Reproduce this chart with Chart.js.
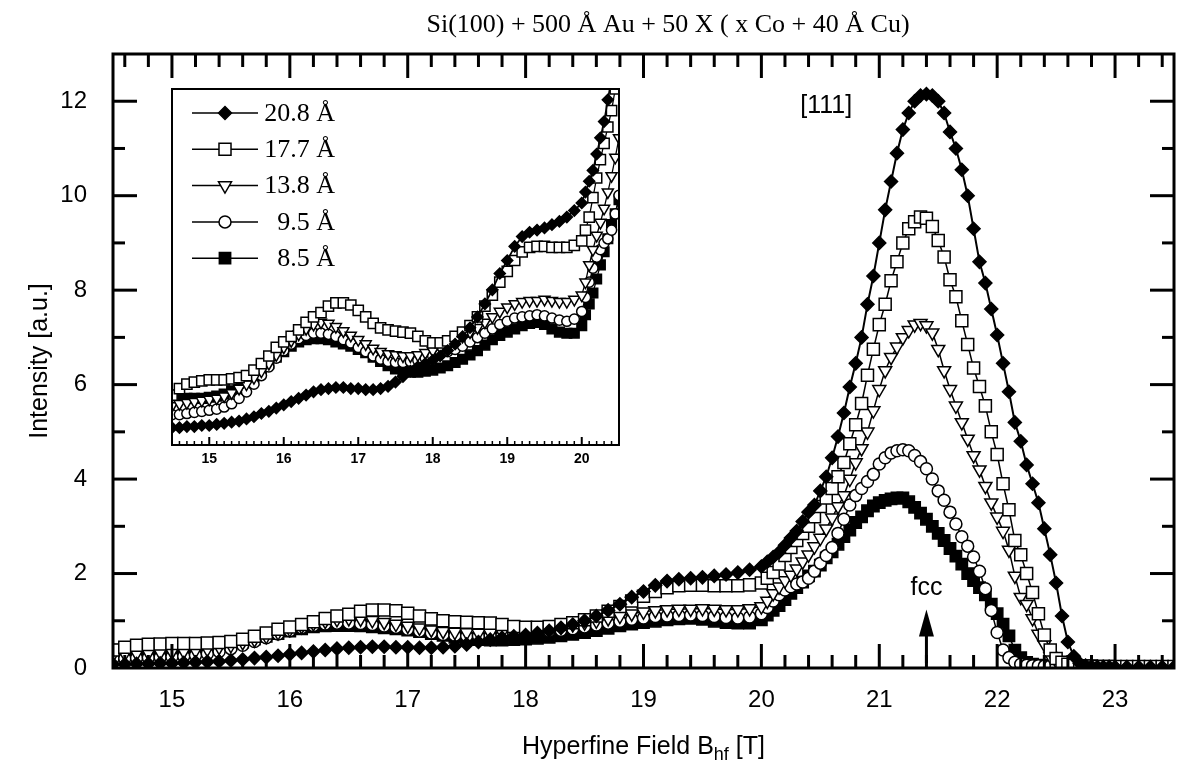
<!DOCTYPE html>
<html>
<head>
<meta charset="utf-8">
<script src="https://cdn.jsdelivr.net/npm/chart.js@4.4.1/dist/chart.umd.min.js"></script>
<style>
  html, body { margin: 0; padding: 0; background: #fff; }
  #wrap { position: relative; width: 1184px; height: 777px; }
  #main { position: absolute; left: 0; top: 0; width: 1184px; height: 777px; }
  #inset { position: absolute; left: 150px; top: 80px; width: 490px; height: 400px; }
</style>
</head>
<body>
<div id="wrap">
  <canvas id="main" width="1184" height="777"></canvas>
  <canvas id="inset" width="490" height="400"></canvas>
</div>
<script>
/* Hyperfine field grid [T] : 0.1 T steps, 0.05 T steps around the peak */
const fieldLow = [14.5, 14.6, 14.7, 14.8, 14.9, 15.0, 15.1, 15.2, 15.3, 15.4,
  15.5, 15.6, 15.7, 15.8, 15.9, 16.0, 16.1, 16.2, 16.3, 16.4,
  16.5, 16.6, 16.7, 16.8, 16.9, 17.0, 17.1, 17.2, 17.3, 17.4,
  17.5, 17.6, 17.7, 17.8, 17.9, 18.0, 18.1, 18.2, 18.3, 18.4,
  18.5, 18.6, 18.7, 18.8, 18.9, 19.0, 19.1, 19.2, 19.3, 19.4,
  19.5, 19.6, 19.7, 19.8, 19.9]
const fieldPeak = [20.0, 20.05, 20.1, 20.15, 20.2, 20.25, 20.3, 20.35, 20.4, 20.45,
  20.5, 20.55, 20.6, 20.65, 20.7, 20.75, 20.8, 20.85, 20.9, 20.95,
  21.0, 21.05, 21.1, 21.15, 21.2, 21.25, 21.3, 21.35, 21.4, 21.45,
  21.5, 21.55, 21.6, 21.65, 21.7, 21.75, 21.8, 21.85, 21.9, 21.95,
  22.0, 22.05, 22.1, 22.15, 22.2, 22.25, 22.3, 22.35, 22.4, 22.45,
  22.5, 22.55, 22.6, 22.65, 22.7, 22.75, 22.8, 22.85, 22.9, 22.95]
const fieldTail = [23.0, 23.1, 23.2, 23.3, 23.4, 23.5]
const field = [...fieldLow, ...fieldPeak, ...fieldTail]

/* Intensity [a.u.] per Co thickness */
const co208 = [0.08, 0.08, 0.09, 0.09, 0.10, 0.10, 0.11, 0.12, 0.13, 0.14,
  0.16, 0.18, 0.21, 0.23, 0.26, 0.29, 0.32, 0.35, 0.38, 0.41,
  0.43, 0.44, 0.45, 0.45, 0.44, 0.44, 0.43, 0.43, 0.44, 0.46,
  0.50, 0.55, 0.60, 0.64, 0.67, 0.70, 0.74, 0.79, 0.85, 0.92,
  1.00, 1.10, 1.22, 1.35, 1.50, 1.62, 1.75, 1.84, 1.88, 1.90,
  1.92, 1.95, 1.98, 2.02, 2.08,
  2.15, 2.25, 2.35, 2.45, 2.60, 2.75, 2.90, 3.10, 3.30, 3.45,
  3.75, 4.05, 4.45, 4.90, 5.40, 5.95, 6.45, 7.00, 7.70, 8.30,
  9.00, 9.70, 10.30, 10.90, 11.40, 11.75, 12.00, 12.12, 12.15, 12.12,
  12.00, 11.75, 11.35, 11.00, 10.55, 10.00, 9.30, 8.60, 8.15, 7.60,
  7.05, 6.45, 5.85, 5.20, 4.80, 4.30, 3.90, 3.50, 2.95, 2.40,
  1.80, 1.10, 0.55, 0.25, 0.10, 0.05, 0.03, 0.02, 0.02, 0.02,
  0.02, 0.02, 0.02, 0.02, 0.02, 0.02]
const co177 = [0.38, 0.44, 0.48, 0.50, 0.51, 0.52, 0.52, 0.52, 0.53, 0.54,
  0.56, 0.61, 0.67, 0.74, 0.82, 0.87, 0.92, 0.98, 1.05, 1.10,
  1.14, 1.20, 1.23, 1.23, 1.21, 1.16, 1.10, 1.04, 1.00, 0.98,
  0.97, 0.96, 0.95, 0.92, 0.88, 0.86, 0.86, 0.88, 0.92, 0.96,
  1.02, 1.10, 1.20, 1.30, 1.42, 1.52, 1.62, 1.70, 1.74, 1.75,
  1.75, 1.74, 1.74, 1.74, 1.76,
  1.80, 1.90, 2.02, 2.20, 2.38, 2.55, 2.70, 2.85, 3.00, 3.20,
  3.42, 3.60, 3.80, 4.05, 4.35, 4.75, 5.15, 5.60, 6.20, 6.75,
  7.27, 7.70, 8.20, 8.60, 9.00, 9.30, 9.45, 9.55, 9.52, 9.35,
  9.05, 8.70, 8.22, 7.86, 7.35, 6.85, 6.35, 5.96, 5.55, 5.00,
  4.52, 3.90, 3.35, 2.70, 2.40, 2.00, 1.60, 1.15, 0.70, 0.38,
  0.20, 0.12, 0.08, 0.06, 0.05, 0.04, 0.04, 0.03, 0.03, 0.03,
  0.03, 0.03, 0.03, 0.03, 0.03, 0.03]
const co138 = [0.28, 0.30, 0.31, 0.32, 0.33, 0.34, 0.35, 0.37, 0.40, 0.44,
  0.48, 0.54, 0.60, 0.67, 0.75, 0.82, 0.88, 0.94, 0.99, 1.03,
  1.05, 1.04, 1.01, 0.97, 0.93, 0.89, 0.85, 0.81, 0.78, 0.76,
  0.75, 0.74, 0.74, 0.75, 0.77, 0.79, 0.82, 0.85, 0.88, 0.92,
  0.96, 1.00, 1.05, 1.10, 1.15, 1.19, 1.22, 1.24, 1.25, 1.25,
  1.26, 1.25, 1.24, 1.24, 1.26,
  1.30, 1.42, 1.58, 1.72, 1.85, 1.97, 2.10, 2.25, 2.40, 2.57,
  2.75, 2.95, 3.18, 3.42, 3.65, 4.00, 4.35, 4.65, 5.00, 5.45,
  5.90, 6.30, 6.58, 6.80, 7.00, 7.15, 7.27, 7.30, 7.25, 7.10,
  6.75, 6.30, 5.90, 5.55, 5.20, 4.85, 4.50, 4.20, 3.85, 3.50,
  3.20, 2.90, 2.50, 1.95, 1.50, 1.35, 1.05, 0.72, 0.50, 0.25,
  0.15, 0.10, 0.07, 0.06, 0.05, 0.04, 0.04, 0.03, 0.03, 0.03,
  0.03, 0.03, 0.03, 0.03, 0.03, 0.03]
const co95 = [0.20, 0.20, 0.21, 0.22, 0.23, 0.24, 0.25, 0.27, 0.30, 0.35,
  0.41, 0.48, 0.56, 0.64, 0.72, 0.79, 0.85, 0.90, 0.93, 0.95,
  0.95, 0.94, 0.92, 0.89, 0.86, 0.82, 0.78, 0.74, 0.71, 0.69,
  0.68, 0.68, 0.69, 0.70, 0.72, 0.74, 0.76, 0.78, 0.80, 0.83,
  0.87, 0.91, 0.95, 0.99, 1.03, 1.06, 1.09, 1.10, 1.11, 1.12,
  1.11, 1.09, 1.07, 1.06, 1.08,
  1.15, 1.28, 1.42, 1.55, 1.65, 1.72, 1.78, 1.82, 1.90, 2.05,
  2.22, 2.38, 2.55, 2.85, 3.15, 3.45, 3.65, 3.80, 3.95, 4.10,
  4.32, 4.45, 4.55, 4.60, 4.62, 4.60, 4.50, 4.37, 4.22, 4.00,
  3.75, 3.55, 3.30, 3.05, 2.78, 2.58, 2.35, 2.05, 1.68, 1.22,
  0.75, 0.38, 0.22, 0.12, 0.08, 0.06, 0.05, 0.05, 0.04, 0.04,
  0.04, 0.03, 0.03, 0.03, 0.03, 0.03, 0.03, 0.03, 0.03, 0.03,
  0.03, 0.03, 0.03, 0.03, 0.03, 0.03]
const co85 = [0.38, 0.36, 0.35, 0.35, 0.35, 0.36, 0.37, 0.39, 0.42, 0.46,
  0.50, 0.55, 0.61, 0.67, 0.73, 0.78, 0.83, 0.87, 0.89, 0.90,
  0.90, 0.89, 0.87, 0.85, 0.83, 0.80, 0.77, 0.73, 0.69, 0.65,
  0.62, 0.60, 0.59, 0.59, 0.60, 0.61, 0.63, 0.65, 0.68, 0.71,
  0.75, 0.79, 0.84, 0.89, 0.93, 0.96, 0.99, 1.02, 1.04, 1.05,
  1.03, 0.99, 0.96, 0.95, 0.95,
  1.02, 1.12, 1.22, 1.32, 1.45, 1.58, 1.70, 1.82, 1.95, 2.05,
  2.18, 2.33, 2.46, 2.62, 2.78, 2.92, 3.08, 3.20, 3.33, 3.43,
  3.50, 3.55, 3.58, 3.60, 3.60, 3.52, 3.40, 3.28, 3.15, 3.00,
  2.85, 2.70, 2.53, 2.37, 2.20, 2.00, 1.85, 1.70, 1.55, 1.35,
  1.15, 0.93, 0.68, 0.38, 0.22, 0.12, 0.08, 0.06, 0.05, 0.05,
  0.04, 0.04, 0.04, 0.04, 0.03, 0.03, 0.03, 0.03, 0.03, 0.03,
  0.03, 0.03, 0.03, 0.03, 0.03, 0.03]

const labels = ['20.8 Å', '17.7 Å', '13.8 Å', '9.5 Å', '8.5 Å']
const values = [co208, co177, co138, co95, co85]

/* Tick labels */
const xTicks = [15, 16, 17, 18, 19, 20, 21, 22, 23]
const yTicks = [0, 2, 4, 6, 8, 10, 12]
const insetTicks = [15, 16, 17, 18, 19, 20]

/* Marker look for each series */
const looks = [
  { style: 'rectRot', r: 6.5, fill: '#000', rot: 0, line: 2 },
  { style: 'rect', r: 8.5, fill: '#fff', rot: 0, line: 1.5 },
  { style: 'triangle', r: 7.5, fill: '#fff', rot: 180, line: 1.5 },
  { style: 'circle', r: 6, fill: '#fff', rot: 0, line: 1.5 },
  { style: 'rect', r: 8, fill: '#000', rot: 0, line: 1.5 },
]

const SANS = '"Liberation Sans", Arial, sans-serif'
const SERIF = '"Liberation Serif", "Times New Roman", serif'

const points = vals => field.map((f, i) => ({ x: f, y: vals[i] }))

const makeDatasets = (scale, maxX, clip) => values.map((vals, i) => {
  const lk = looks[i]
  return {
    label: labels[i],
    data: points(vals).filter(p => p.x <= maxX),
    showLine: true,
    borderColor: '#000',
    borderWidth: lk.line * scale,
    pointStyle: lk.style,
    pointRotation: lk.rot,
    pointRadius: lk.r * scale,
    pointHoverRadius: lk.r * scale,
    pointBackgroundColor: lk.fill,
    pointBorderColor: '#000',
    pointBorderWidth: 1.5,
    clip: clip,
  }
})

/* Legend marker drawn by hand (same shapes as Chart.js) */
const drawMarker = (ctx, lk, x, y) => {
  const r = lk.r
  ctx.beginPath()
  if (lk.style === 'rectRot') {
    ctx.moveTo(x - r, y); ctx.lineTo(x, y - r); ctx.lineTo(x + r, y); ctx.lineTo(x, y + r)
    ctx.closePath()
  } else if (lk.style === 'rect') {
    const s = r * Math.SQRT1_2
    ctx.rect(x - s, y - s, 2 * s, 2 * s)
  } else if (lk.style === 'triangle') {
    ctx.moveTo(x, y + r); ctx.lineTo(x - r * 0.866, y - r / 2); ctx.lineTo(x + r * 0.866, y - r / 2)
    ctx.closePath()
  } else {
    ctx.arc(x, y, r, 0, Math.PI * 2)
  }
  ctx.fillStyle = lk.fill
  ctx.fill()
  ctx.lineWidth = 1.5
  ctx.strokeStyle = '#000'
  ctx.stroke()
}

const tickLine = (ctx, x1, y1, x2, y2, w) => {
  ctx.lineWidth = w
  ctx.beginPath(); ctx.moveTo(x1, y1); ctx.lineTo(x2, y2); ctx.stroke()
}

/* Frame, inward ticks, titles and annotations of the main plot */
const mainDecor = {
  id: 'mainDecor',
  afterDraw(chart) {
    const { ctx, chartArea: a, scales: { x, y } } = chart
    ctx.save()
    ctx.strokeStyle = '#000'
    ctx.fillStyle = '#000'

    for (let k = 0; k <= 44; k++) {
      const v = Math.round((14.6 + 0.2 * k) * 10) / 10
      const px = x.getPixelForValue(v)
      const major = Number.isInteger(v)
      const len = major ? 24 : 13
      tickLine(ctx, px, a.bottom, px, a.bottom - len, 3)
      tickLine(ctx, px, a.top, px, a.top + len, 3)
    }
    for (let v = 1; v <= 12; v++) {
      const py = y.getPixelForValue(v)
      const len = v % 2 === 0 ? 24 : 12
      tickLine(ctx, a.left, py, a.left + len, py, 3)
      tickLine(ctx, a.right, py, a.right - len, py, 3)
    }
    ctx.lineWidth = 3
    ctx.strokeRect(a.left, a.top, a.right - a.left, a.bottom - a.top)

    // title
    ctx.font = '26px ' + SERIF
    ctx.textAlign = 'center'
    ctx.textBaseline = 'middle'
    ctx.fillText('Si(100) + 500 Å Au + 50 X ( x Co + 40 Å Cu)', 668, 25)

    // y title
    ctx.save()
    ctx.translate(40, (a.top + a.bottom) / 2)
    ctx.rotate(-Math.PI / 2)
    ctx.font = '25px ' + SANS
    ctx.fillText('Intensity [a.u.]', 0, 0)
    ctx.restore()

    // x title with subscript
    const big = '25px ' + SANS, small = '18px ' + SANS
    const p1 = 'Hyperfine Field B', p2 = 'hf', p3 = ' [T]'
    ctx.font = big
    const w1 = ctx.measureText(p1).width, w3 = ctx.measureText(p3).width
    ctx.font = small
    const w2 = ctx.measureText(p2).width
    let cx = (a.left + a.right) / 2 - (w1 + w2 + w3) / 2
    const ty = 745
    ctx.textAlign = 'left'
    ctx.textBaseline = 'alphabetic'
    ctx.font = big; ctx.fillText(p1, cx, ty + 9); cx += w1
    ctx.font = small; ctx.fillText(p2, cx, ty + 15); cx += w2
    ctx.font = big; ctx.fillText(p3, cx, ty + 9)

    // [111] and fcc arrow
    ctx.textAlign = 'center'
    ctx.textBaseline = 'middle'
    ctx.font = '25px ' + SANS
    ctx.fillText('[111]', x.getPixelForValue(20.55), y.getPixelForValue(11.9))
    ctx.fillText('fcc', x.getPixelForValue(21.4), y.getPixelForValue(1.7))
    const ax = x.getPixelForValue(21.4)
    const tip = y.getPixelForValue(1.24), base = y.getPixelForValue(0.1)
    tickLine(ctx, ax, base, ax, tip + 20, 3)
    ctx.beginPath()
    ctx.moveTo(ax, tip); ctx.lineTo(ax - 7.5, tip + 27); ctx.lineTo(ax + 7.5, tip + 27)
    ctx.closePath(); ctx.fill()
    ctx.restore()
  }
}

/* Inset frame, ticks and legend */
const insetDecor = {
  id: 'insetDecor',
  beforeDraw(chart) {
    const { ctx, chartArea: a } = chart
    ctx.save()
    ctx.fillStyle = '#fff'
    ctx.fillRect(a.left, a.top, a.right - a.left, a.bottom - a.top)
    ctx.restore()
  },
  afterDraw(chart) {
    const { ctx, chartArea: a, scales: { x } } = chart
    ctx.save()
    ctx.strokeStyle = '#000'
    for (let k = 0; k <= 59; k++) {
      const v = Math.round((14.6 + 0.1 * k) * 10) / 10
      const px = x.getPixelForValue(v)
      const major = Number.isInteger(v)
      tickLine(ctx, px, a.bottom, px, a.bottom - (major ? 8 : 4), major ? 2 : 1.5)
    }
    ctx.lineWidth = 2
    ctx.strokeRect(a.left, a.top, a.right - a.left, a.bottom - a.top)

    ctx.font = '26px ' + SERIF
    ctx.fillStyle = '#000'
    ctx.textAlign = 'right'
    ctx.textBaseline = 'middle'
    labels.forEach((lab, i) => {
      const ry = a.top + 24 + i * 36.3
      tickLine(ctx, a.left + 20, ry, a.left + 86, ry, 1.5)
      drawMarker(ctx, looks[i], a.left + 53, ry)
      ctx.fillStyle = '#000'
      ctx.fillText(lab, a.left + 163, ry + 1)
    })
    ctx.restore()
  }
}

const mainChart = new Chart(document.querySelector('#main'), {
  type: 'scatter',
  data: { datasets: makeDatasets(1, 99, undefined) },
  options: {
    responsive: false,
    animation: false,
    devicePixelRatio: 1,
    layout: { padding: { top: 54, right: 6, left: 0, bottom: 0 } },
    plugins: { legend: { display: false }, tooltip: { enabled: false }, title: { display: false } },
    scales: {
      x: {
        type: 'linear', min: 14.5, max: 23.5,
        afterBuildTicks: s => { s.ticks = xTicks.map(v => ({ value: v })) },
        afterFit: s => { s.height = 109 },
        grid: { display: false, drawTicks: false },
        border: { display: false },
        ticks: { color: '#000', font: { family: SANS, size: 24 }, padding: 18, maxRotation: 0, autoSkip: false },
      },
      y: {
        type: 'linear', min: 0, max: 13,
        afterBuildTicks: s => { s.ticks = yTicks.map(v => ({ value: v })) },
        afterFit: s => { s.width = 113 },
        grid: { display: false, drawTicks: false },
        border: { display: false },
        ticks: { color: '#000', font: { family: SANS, size: 24 }, padding: 26, autoSkip: false },
      },
    },
  },
  plugins: [mainDecor],
})

const insetChart = new Chart(document.querySelector('#inset'), {
  type: 'scatter',
  data: { datasets: makeDatasets(0.85, 20.5, 0) },
  options: {
    responsive: false,
    animation: false,
    devicePixelRatio: 1,
    layout: { padding: { top: 9, right: 21, left: 22, bottom: 0 } },
    plugins: { legend: { display: false }, tooltip: { enabled: false } },
    scales: {
      x: {
        type: 'linear', min: 14.5, max: 20.5,
        afterBuildTicks: s => { s.ticks = insetTicks.map(v => ({ value: v })) },
        afterFit: s => { s.height = 35 },
        grid: { display: false, drawTicks: false },
        border: { display: false },
        ticks: { color: '#000', font: { family: SANS, size: 14, weight: 'bold' }, padding: 6, maxRotation: 0, autoSkip: false },
      },
      y: { display: false, min: -0.08, max: 3.2 },
    },
  },
  plugins: [insetDecor],
})
</script>
</body>
</html>
